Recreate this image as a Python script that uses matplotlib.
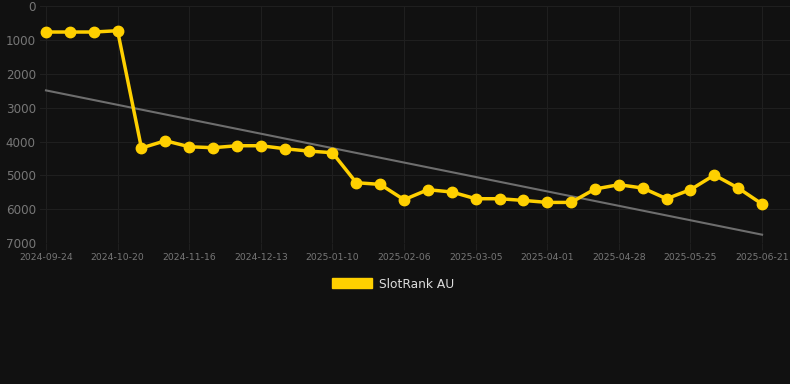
import numpy as np
import matplotlib.pyplot as plt
from matplotlib.patches import Patch

# dados (pontos igualmente espaçados no eixo x)
ranks = [758, 758, 758, 719, 4190, 3975, 4152, 4181, 4122, 4122,
         4210, 4280, 4329, 5216, 5266, 5719, 5423, 5491, 5690, 5690,
         5740, 5799, 5799, 5403, 5275, 5374, 5690, 5423, 4989, 5374, 5847]
tick_labels = ["2024-09-24", "2024-10-20", "2024-11-16", "2024-12-13", "2025-01-10",
               "2025-02-06", "2025-03-05", "2025-04-01", "2025-04-28", "2025-05-25",
               "2025-06-21"]
trend_ends = [2485, 6754]  # início e fim da linha de tendência
y_ticks = [0, 1000, 2000, 3000, 4000, 5000, 6000, 7000]
label = "SlotRank AU"

bg = "#111111"
yellow = "#ffd000"

x = np.arange(len(ranks))

fig = plt.figure(figsize=(7.9, 3.84), dpi=100, facecolor=bg)
ax = fig.add_axes([40 / 790, 141 / 384, 750 / 790, 236.6 / 384])
ax.set_facecolor(bg)

ax.plot([x[0], x[-1]], trend_ends, color="#6e6e6e", lw=1.5, zorder=2)
ax.plot(x, ranks, color=yellow, lw=2.5, marker="o", ms=7.5, zorder=3)

ax.set_ylim(7000, 0)
ax.set_yticks(y_ticks)
ax.set_xlim(-0.25, 31.17)
ax.set_xticks(x[::3])
ax.set_xticklabels(tick_labels)

ax.grid(True, color="#1f1f1f", lw=0.8)
ax.set_axisbelow(True)
for s in ax.spines.values():
    s.set_visible(False)
ax.tick_params(axis="y", colors="#777777", labelsize=8.6, length=0, pad=3)
ax.tick_params(axis="x", colors="#1f1f1f", labelcolor="#777777", labelsize=6.7, length=5, pad=2)

fig.legend(handles=[Patch(color=yellow)], labels=[label], loc="center",
           bbox_to_anchor=(393 / 790, 1 - 284 / 384), frameon=False,
           labelcolor="#dddddd", fontsize=8.8, handlelength=3.3, handleheight=0.9,
           handletextpad=0.5)

fig.savefig("out.png", dpi=100, facecolor=bg)
